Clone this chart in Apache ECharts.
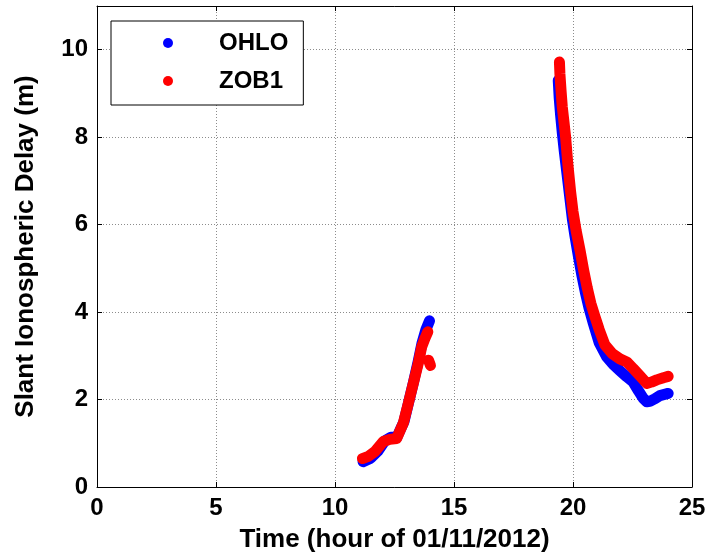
<!DOCTYPE html>
<html>
<head>
<meta charset="utf-8">
<title>Slant Ionospheric Delay</title>
<script src="https://cdn.jsdelivr.net/npm/echarts@6/dist/echarts.min.js"></script>
<style>
  html, body { margin: 0; padding: 0; background: #ffffff; }
  #chart { width: 709px; height: 559px; }
</style>
</head>
<body>
<div id="chart"></div>
<script>
// Station names
const stations = ['OHLO', 'ZOB1'];

// Axis ticks
const xTicks = [0, 5, 10, 15, 20, 25];
const yTicks = [0, 2, 4, 6, 8, 10];

// OHLO, morning pass (hour, delay in m)
const ohloHour1  = [11.18, 11.5, 11.8, 12.1, 12.35, 12.6, 12.9, 13.1, 13.3, 13.5, 13.66, 13.82, 13.97];
const ohloDelay1 = [0.58, 0.66, 0.82, 1.06, 1.14, 1.14, 1.5, 1.95, 2.4, 2.88, 3.3, 3.6, 3.8];

// OHLO, evening pass
const ohloHour2  = [19.38, 19.42, 19.48, 19.55, 19.63, 19.75, 19.87, 19.98, 20.08, 20.22, 20.37, 20.52, 20.67, 20.85, 21.1, 21.41, 21.69, 21.97, 22.26, 22.53, 22.75, 22.95, 23.1, 23.23, 23.45, 23.65, 24.0];
const ohloDelay2 = [9.3, 8.9, 8.5, 8.1, 7.7, 7.15, 6.6, 6.1, 5.75, 5.3, 4.85, 4.45, 4.1, 3.75, 3.3, 2.98, 2.8, 2.66, 2.52, 2.4, 2.2, 2.03, 1.95, 1.96, 2.02, 2.09, 2.14];

// ZOB1, morning pass
const zobHour1  = [11.15, 11.4, 11.68, 12.03, 12.3, 12.59, 12.87, 13.08, 13.29, 13.5, 13.64, 13.78, 13.9];
const zobDelay1 = [0.65, 0.7, 0.81, 1.04, 1.09, 1.11, 1.46, 1.91, 2.37, 2.83, 3.2, 3.4, 3.55];

// ZOB1, short arc after the jump near 14 h
const zobHour1b  = [13.93, 14.01];
const zobDelay1b = [2.9, 2.78];

// ZOB1, evening pass
const zobHour2  = [19.43, 19.45, 19.5, 19.55, 19.62, 19.69, 19.78, 19.9, 20.0, 20.13, 20.3, 20.45, 20.6, 20.75, 20.92, 21.1, 21.34, 21.65, 21.97, 22.26, 22.53, 22.8, 23.1, 23.3, 23.52, 23.8, 24.0];
const zobDelay2 = [9.72, 9.45, 9.05, 8.69, 8.35, 8.0, 7.4, 6.75, 6.3, 5.87, 5.4, 4.95, 4.55, 4.2, 3.9, 3.6, 3.25, 3.05, 2.93, 2.86, 2.71, 2.55, 2.37, 2.4, 2.45, 2.5, 2.53];

const BLUE = '#0000ff';
const RED = '#ff0000';
const FONT = '"Liberation Sans", Arial, Helvetica, sans-serif';

// Join hour/delay arrays into pairs; '-' separates passes
function pairs(hours, delays) {
  return hours.map((h, i) => [h, delays[i]]);
}
function joinArcs(...arcs) {
  const out = [];
  arcs.forEach((a, k) => {
    if (k > 0) out.push(['-', '-']);
    out.push(...a);
  });
  return out;
}

const ohloData = joinArcs(pairs(ohloHour1, ohloDelay1), pairs(ohloHour2, ohloDelay2));
const zobData = joinArcs(pairs(zobHour1, zobDelay1), pairs(zobHour1b, zobDelay1b), pairs(zobHour2, zobDelay2));

const tickLabel = { color: '#000', fontFamily: FONT, fontWeight: 'bold', fontSize: 24 };
const dotted = { show: true, lineStyle: { color: '#8c8c8c', type: [1, 2], width: 1 } };
const blackLine = { show: true, onZero: false, lineStyle: { color: '#000', width: 1 } };
const innerTick = { show: true, inside: true, length: 5, lineStyle: { color: '#000', width: 1 } };

function series(name, color, data) {
  return {
    name: name,
    type: 'line',
    data: data,
    symbol: 'none',
    connectNulls: false,
    color: color,
    lineStyle: { color: color, width: 11, cap: 'round', join: 'round' },
    emphasis: { disabled: true },
    silent: true,
    z: name === 'ZOB1' ? 3 : 2
  };
}

const chart = echarts.init(document.getElementById('chart'), null, { renderer: 'canvas' });
chart.setOption({
  animation: false,
  backgroundColor: '#ffffff',
  grid: { left: 97, right: 17, top: 6, bottom: 72, containLabel: false },
  xAxis: [
    {
      type: 'value', min: xTicks[0], max: xTicks[xTicks.length - 1], interval: 5,
      position: 'bottom',
      name: 'Time (hour of 01/11/2012)', nameLocation: 'middle', nameGap: 40,
      nameTextStyle: { color: '#000', fontFamily: FONT, fontWeight: 'bold', fontSize: 26 },
      axisLine: blackLine, axisTick: innerTick,
      axisLabel: Object.assign({ margin: 9 }, tickLabel),
      splitLine: dotted
    },
    {
      type: 'value', min: xTicks[0], max: xTicks[xTicks.length - 1], interval: 5,
      position: 'top',
      axisLine: blackLine, axisTick: innerTick,
      axisLabel: { show: false }, splitLine: { show: false }
    }
  ],
  yAxis: [
    {
      type: 'value', min: 0, max: 11, interval: 2,
      position: 'left',
      name: 'Slant Ionospheric Delay (m)', nameLocation: 'middle', nameGap: 58,
      nameTextStyle: { color: '#000', fontFamily: FONT, fontWeight: 'bold', fontSize: 26 },
      axisLine: blackLine, axisTick: innerTick,
      axisLabel: Object.assign({
        margin: 9,
        formatter: v => (yTicks.indexOf(v) >= 0 ? String(v) : '')
      }, tickLabel),
      splitLine: dotted
    },
    {
      type: 'value', min: 0, max: 11, interval: 2,
      position: 'right',
      axisLine: blackLine, axisTick: innerTick,
      axisLabel: { show: false }, splitLine: { show: false }
    }
  ],
  legend: {
    left: 111, top: 21,
    orient: 'vertical',
    data: stations.map(s => ({ name: s, icon: 'circle' })),
    itemWidth: 10, itemHeight: 10, itemGap: 14,
    padding: [10, 15, 12, 52],
    backgroundColor: '#ffffff',
    borderColor: '#000', borderWidth: 1, borderRadius: 0,
    selectedMode: false,
    textStyle: {
      color: '#000', fontFamily: FONT, fontWeight: 'bold', fontSize: 24, lineHeight: 24,
      padding: [0, 0, 0, 41]
    }
  },
  series: [
    series(stations[0], BLUE, ohloData),
    series(stations[1], RED, zobData)
  ]
});
</script>
</body>
</html>
